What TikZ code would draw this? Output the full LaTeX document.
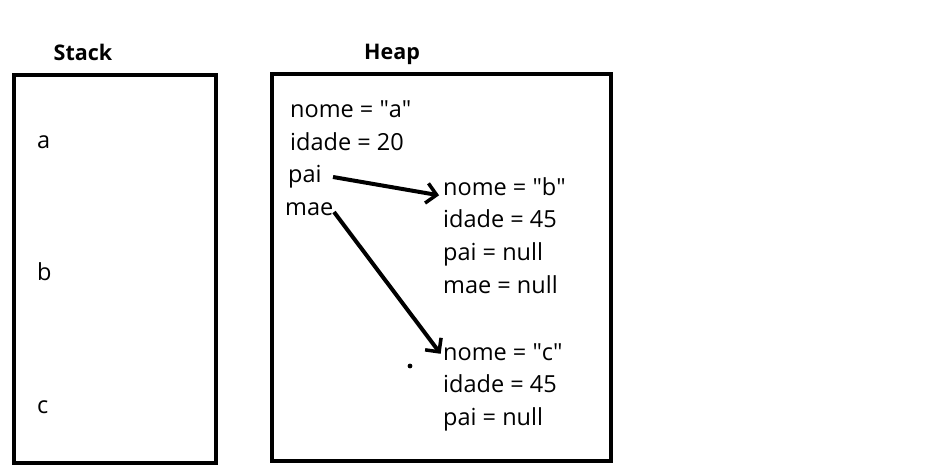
\documentclass[tikz,border=0pt]{standalone}
\usepackage{fontspec}
\setmainfont{Open Sans}
\usetikzlibrary{arrows.meta}
\newcommand{\dq}{\textquotedbl}
\begin{document}
\begin{tikzpicture}[x=1pt,y=-1pt,
  box/.style={draw,line width=4pt},
  title/.style={font=\bfseries\fontsize{21.5}{24}\selectfont,inner sep=0pt,text height=1.45ex,text depth=0.25ex},
  txt/.style={font=\fontsize{23.5}{27}\selectfont,inner sep=0pt,anchor=west,text height=1.45ex,text depth=0.25ex,yshift=-5pt},
  ptr/.style={line width=4pt,shorten >=4pt,-{Straight Barb[length=10pt,width=20pt,line width=3.5pt]}}]
\useasboundingbox (0,0) rectangle (936,476);
\draw[box] (14,75) rectangle (216,463);
\draw[box] (272,74) rectangle (611,461);
\node[title] (st) at (83,57) {Stack};
\node[title] (hp) at (392,56) {Heap};
\node[txt] (sa) at (37,140) {a};
\node[txt] (sb) at (37,272) {b};
\node[txt] (sc) at (37,405) {c};
\node[txt] (a1) at (290,109) {nome = \dq a\dq};
\node[txt] (a2) at (290,142) {idade = 20};
\node[txt] (a3) at (288,174) {pai};
\node[txt] (a4) at (285,207) {mae};
\node[txt] (b1) at (443,187) {nome = \dq b\dq};
\node[txt] (b2) at (443,219) {idade = 45};
\node[txt] (b3) at (443,252) {pai = null};
\node[txt] (b4) at (443,285) {mae = null};
\node[txt] (c1) at (443,352) {nome = \dq c\dq};
\node[txt] (c2) at (443,384) {idade = 45};
\node[txt] (c3) at (443,417) {pai = null};
\coordinate (p1) at (333,177);
\coordinate (p2) at (334,212);
\draw[ptr] (p1) -- ([yshift=-4pt]b1.west);
\draw[ptr] (p2) -- (c1.west);
\fill (410,366) circle (2.4pt);
\end{tikzpicture}
\end{document}
